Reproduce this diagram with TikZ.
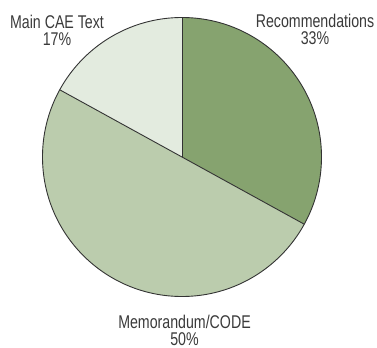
\documentclass[tikz,border=0pt]{standalone}
\usepackage{fontspec}
\setmainfont[FakeStretch=0.77]{Liberation Sans}
\definecolor{recfill}{HTML}{86A36F}
\definecolor{memofill}{HTML}{BBCCAD}
\definecolor{mainfill}{HTML}{E3EBDF}
\definecolor{edge}{HTML}{333333}
\definecolor{labeltext}{HTML}{3A3A3A}
\tikzset{
  wedge/.style={draw=edge, line width=0.9bp, line join=round},
  pielabel/.style={align=center, inner sep=0pt, anchor=north, text=labeltext,
    font=\fontsize{18.5}{17}\selectfont}
}
\begin{document}
\begin{tikzpicture}[x=1bp,y=1bp]
  \useasboundingbox (0,0) rectangle (377,348);
  \coordinate (c) at (182,191);
  \def\R{139.5}
  % slices, clockwise from the top
  \fill[recfill]  (c) -- ++(90:\R) arc[start angle=90, end angle=-28.8, radius=\R] -- cycle;
  \fill[memofill] (c) -- ++(-28.8:\R) arc[start angle=-28.8, end angle=-208.8, radius=\R] -- cycle;
  \fill[mainfill] (c) -- ++(151.2:\R) arc[start angle=151.2, end angle=90, radius=\R] -- cycle;
  % outline and dividing lines
  \draw[wedge] (c) circle[radius=\R];
  \draw[wedge] (c) -- ++(90:\R);
  \draw[wedge] (c) -- ++(-28.8:\R);
  \draw[wedge] (c) -- ++(151.2:\R);
  % labels
  \node[pielabel] (lmain) at (57,333) {Main CAE Text\\17\%};
  \node[pielabel] (lrec)  at (315,334) {Recommendations\\33\%};
  \node[pielabel] (lmemo) at (184.5,33) {Memorandum/CODE\\50\%};
\end{tikzpicture}
\end{document}
